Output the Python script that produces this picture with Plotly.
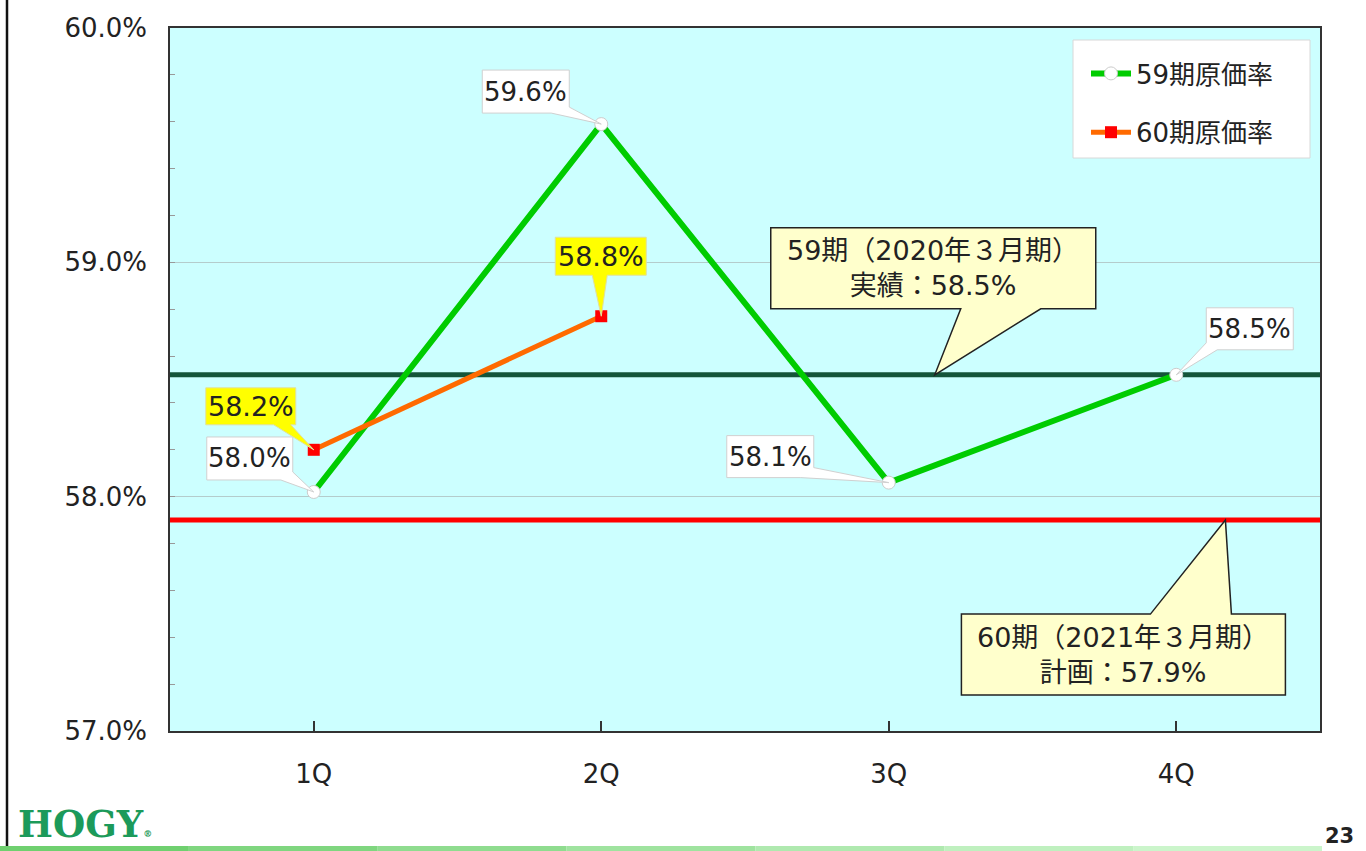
import plotly.graph_objects as go

# ---------------- data ----------------
categories = ["1Q", "2Q", "3Q", "4Q"]
series59_name = "59期原価率"
series59_values = [58.02, 59.59, 58.06, 58.52]
series59_labels = ["58.0%", "59.6%", "58.1%", "58.5%"]
series60_name = "60期原価率"
series60_values = [58.2, 58.77]
series60_labels = ["58.2%", "58.8%"]
actual59_value = 58.52
actual59_text = "59期（2020年３月期）<br>実績：58.5%"
plan60_value = 57.9
plan60_text = "60期（2021年３月期）<br>計画：57.9%"
y_tick_vals = [57.0, 58.0, 59.0, 60.0]
y_tick_text = ["57.0%", "58.0%", "59.0%", "60.0%"]
page_number = "23"
logo_text = "HOGY"

# ---------------- layout constants ----------------
W_FIG, H_FIG = 1366, 851
M_L, M_R, M_T, M_B = 170, 46, 28, 120
PW = W_FIG - M_L - M_R
PH = H_FIG - M_T - M_B

def px_x(p):
    return (p - M_L) / PW

def px_y(p):
    return 1 - (p - M_T) / PH

FONT = "DejaVu Sans, Noto Sans CJK JP, sans-serif"
TXT = "#222222"

x_idx = list(range(len(categories)))

fig = go.Figure()
fig.add_trace(go.Scatter(
    x=x_idx, y=series59_values, name=series59_name, mode="lines+markers",
    line=dict(color="#00cc00", width=6),
    marker=dict(symbol="circle", size=13, color="white", line=dict(color="#cccccc", width=1)),
    legendgroup="a",
))
fig.add_trace(go.Scatter(
    x=x_idx[:len(series60_values)], y=series60_values, name=series60_name, mode="lines+markers",
    line=dict(color="#ff6a00", width=5),
    marker=dict(symbol="square", size=12, color="#ff0000", line=dict(color="#ff0000", width=0)),
    legendgroup="b",
))

shapes = []
annotations = []

# reference lines
shapes.append(dict(type="line", xref="paper", x0=0, x1=1, yref="y", y0=actual59_value, y1=actual59_value,
                   line=dict(color="#14553a", width=5), layer="below"))
shapes.append(dict(type="line", xref="paper", x0=0, x1=1, yref="y", y0=plan60_value, y1=plan60_value,
                   line=dict(color="#ff0000", width=5), layer="below"))


def poly(pts):
    # pts in pixel offsets, y downward; plotly pixel-mode y is upward
    return "M " + " L ".join(f"{dx},{-dy}" for dx, dy in pts) + " Z"


def callout(xv, yv, pts, box, text, fill, border, size, bw=1):
    shapes.append(dict(type="path", xref="x", yref="y", xsizemode="pixel", ysizemode="pixel",
                       xanchor=xv, yanchor=yv, path=poly(pts), fillcolor=fill,
                       line=dict(color=border, width=bw), layer="above"))
    l, t, r, b = box
    annotations.append(dict(x=xv, y=yv, xref="x", yref="y", showarrow=False, text=text,
                            xshift=(l + r) / 2, yshift=-(t + b) / 2, align="center",
                            font=dict(family=FONT, size=size, color=TXT)))


# callout geometry (pixel offsets from the labelled point, y downward)
lab59_geom = [
    ((-107, -55, -21, -12), [(-107, -55), (-21, -55), (-21, -20), (0, 0), (-33, -12), (-107, -12)]),
    ((-119, -54, -32, -11), [(-119, -54), (-32, -54), (-32, -17), (0, 0), (-50, -11), (-119, -11)]),
    ((-162, -47, -75, -5), [(-162, -47), (-75, -47), (-75, -15), (0, 0), (-88, -5), (-162, -5)]),
    ((30, -67, 117, -25), [(30, -67), (117, -67), (117, -25), (41, -25), (0, 0), (30, -32)]),
]
lab60_geom = [
    ((-108, -62, -18, -25), [(-108, -62), (-18, -62), (-18, -25), (-23, -25), (0, 0), (-40, -25), (-108, -25)]),
    ((-46, -79, 45, -41), [(-46, -79), (45, -79), (45, -41), (6, -41), (0, 0), (-9, -41), (-46, -41)]),
]

for i, (v, lab) in enumerate(zip(series59_values, series59_labels)):
    box, pts = lab59_geom[i]
    callout(x_idx[i], v, pts, box, lab, "white", "#d0d0d0", 26)
for i, (v, lab) in enumerate(zip(series60_values, series60_labels)):
    box, pts = lab60_geom[i]
    callout(x_idx[i], v, pts, box, lab, "#ffff00", "#e0e0a0", 27)

# big callouts
big59_anchor_x = 2.16
big60_anchor_x = 3.171
callout(big59_anchor_x, actual59_value,
        [(-164, -147), (161, -147), (161, -66), (106, -66), (0, 0), (26, -66), (-164, -66)],
        (-164, -147, 161, -66), actual59_text, "#ffffcc", "#222222", 27, bw=1.5)
callout(big60_anchor_x, plan60_value,
        [(-264, 94), (-75, 94), (0, 0), (6, 94), (60, 94), (60, 175), (-264, 175)],
        (-264, 94, 60, 175), plan60_text, "#ffffcc", "#222222", 27, bw=1.5)

# legend box
shapes.append(dict(type="rect", xref="paper", yref="paper", x0=px_x(1073), x1=px_x(1310),
                   y0=px_y(158), y1=px_y(40), fillcolor="white", line=dict(color="#d8d8d8", width=1),
                   layer="above"))

# page decorations
shapes.append(dict(type="line", xref="paper", yref="paper", x0=px_x(7), x1=px_x(7), y0=px_y(0), y1=px_y(847),
                   line=dict(color="#111111", width=2.5)))
grad = ["#6fd06f", "#7fd67f", "#8fdc8f", "#9fe39f", "#afe9af", "#bff0bf", "#cbf5cb"]
seg = 1322 / len(grad)
for k, c in enumerate(grad):
    shapes.append(dict(type="rect", xref="paper", yref="paper", x0=px_x(k * seg), x1=px_x((k + 1) * seg),
                       y0=px_y(851), y1=px_y(846), fillcolor=c, line=dict(width=0)))

annotations.append(dict(xref="paper", yref="paper", x=px_x(16), y=px_y(824), xanchor="left", yanchor="middle",
                        showarrow=False,
                        text=logo_text + "<span style='font-size:9px'>®</span>",
                        font=dict(family="DejaVu Serif, serif", size=37, color="#1c9a5a", weight="bold")))
annotations.append(dict(xref="paper", yref="paper", x=px_x(1340), y=px_y(836), xanchor="center", yanchor="middle",
                        showarrow=False, text="<b>" + page_number + "</b>",
                        font=dict(family="DejaVu Sans, sans-serif", size=21, color=TXT)))

fig.update_layout(
    width=W_FIG, height=H_FIG,
    margin=dict(l=M_L, r=M_R, t=M_T, b=M_B),
    paper_bgcolor="white", plot_bgcolor="#ccffff",
    font=dict(family=FONT, size=26, color=TXT),
    showlegend=True,
    legend=dict(x=px_x(1086), y=px_y(50), xanchor="left", yanchor="top",
                bgcolor="rgba(0,0,0,0)", borderwidth=0, itemwidth=40,
                tracegroupgap=22, font=dict(family=FONT, size=26, color=TXT)),
    shapes=shapes, annotations=annotations,
)
fig.update_xaxes(
    range=[-0.5, 3.5], tickvals=x_idx, ticktext=categories,
    showgrid=False, zeroline=False,
    showline=True, linecolor="#333333", linewidth=1.5, mirror=True,
    ticks="inside", ticklen=10, tickcolor="#333333", tickwidth=1.5,
    ticklabelstandoff=19,
    tickfont=dict(family=FONT, size=26, color=TXT),
)
fig.update_yaxes(
    range=[57.0, 60.0], tickvals=y_tick_vals, ticktext=y_tick_text,
    showgrid=True, gridcolor="#b4cccc", gridwidth=1, zeroline=False,
    showline=True, linecolor="#333333", linewidth=1.5, mirror=True,
    ticks="inside", ticklen=5, tickcolor="#999999",
    minor=dict(dtick=0.2, ticks="inside", ticklen=5, tickcolor="#999999", showgrid=False),
    ticklabelstandoff=16,
    tickfont=dict(family=FONT, size=26, color=TXT),
)

fig.write_html("out.html", config={"displayModeBar": False},
               post_script="document.body.style.margin='0';document.body.style.overflow='hidden';")
